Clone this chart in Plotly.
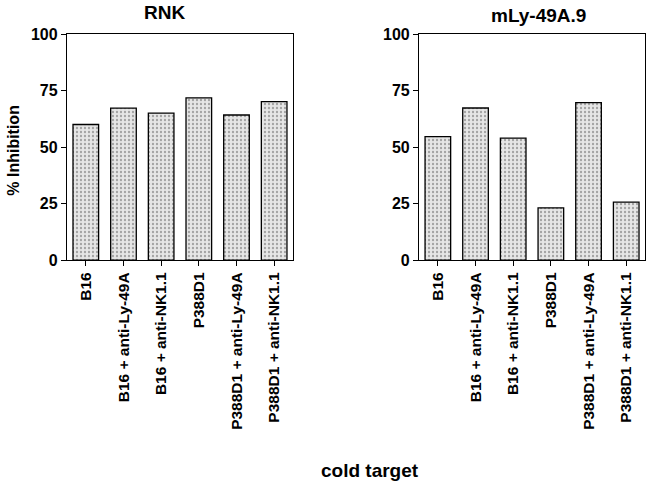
import plotly.graph_objects as go
from plotly.subplots import make_subplots

categories = ["B16", "B16 + anti-Ly-49A", "B16 + anti-NK1.1",
              "P388D1", "P388D1 + anti-Ly-49A", "P388D1 + anti-NK1.1"]
rnk_values = [60, 67.2, 65, 71.8, 64.2, 70.1]
mly_values = [54.6, 67.3, 54, 23.1, 69.7, 25.6]
panel_titles = ["RNK", "mLy-49A.9"]
y_ticks = [0, 25, 50, 75, 100]

FONT = "Liberation Sans, Arial, sans-serif"

fig = make_subplots(rows=1, cols=2)

for i, vals in enumerate([rnk_values, mly_values]):
    fig.add_trace(go.Bar(
        x=categories,
        y=vals,
        width=0.68,
        marker=dict(
            color="#dcdcdc",
            line=dict(color="black", width=1.3),
            pattern=dict(shape=".", fgcolor="#555555", bgcolor="#e6e6e6",
                         size=4, solidity=0.25),
        ),
        showlegend=False,
    ), row=1, col=i + 1)

axis_common = dict(
    showline=True, linecolor="black", linewidth=1.2, mirror=True,
    showgrid=False, zeroline=False, ticks="outside", tickcolor="black",
    automargin=False,
)

xaxis_common = dict(tickangle=-90, ticklen=5, tickfont=dict(size=15.5), **axis_common)
yaxis_common = dict(domain=[0.466, 0.930], range=[0, 100], tickvals=y_ticks,
                    ticklen=5, tickfont=dict(size=16), **axis_common)

fig.update_layout(
    width=654, height=487,
    margin=dict(l=0, r=0, t=0, b=0),
    plot_bgcolor="white", paper_bgcolor="white",
    font=dict(family=FONT, size=15, color="black", weight="bold"),
    xaxis=dict(domain=[0.1024, 0.4480], **xaxis_common),
    xaxis2=dict(domain=[0.6407, 0.9863], **xaxis_common),
    yaxis=yaxis_common,
    yaxis2=yaxis_common,
)

def label(text, x, y, size, angle=0):
    fig.add_annotation(text=text, x=x, y=y, xref="paper", yref="paper",
                       xanchor="center", yanchor="middle", textangle=angle,
                       showarrow=False, font=dict(size=size, weight="bold"))

label(panel_titles[0], 0.252, 0.975, 19)
label(panel_titles[1], 0.823, 0.969, 19)
label("% Inhibition", 0.021, 0.692, 16, angle=-90)
label("cold target", 0.566, 0.033, 19)

# page body has a default 8px margin; drop it so the figure fills the window
fig.write_html("out.html", config={"displayModeBar": False},
               post_script="document.body.style.margin='0';")
